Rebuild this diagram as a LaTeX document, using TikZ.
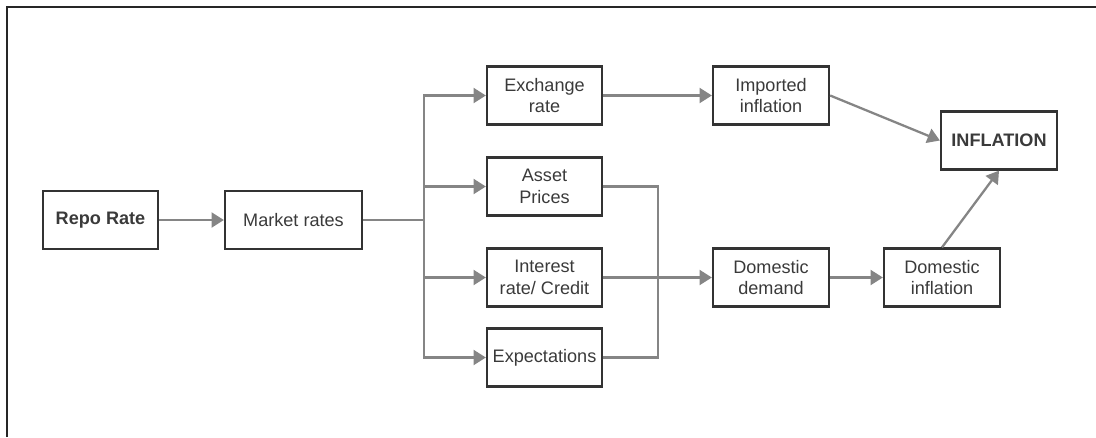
\documentclass[tikz,border=0pt]{standalone}
\usepackage{fontspec}
\setmainfont{Liberation Sans}
\usetikzlibrary{arrows.meta}
\definecolor{boxline}{HTML}{333333}
\definecolor{arrowgray}{HTML}{858585}
\definecolor{textgray}{HTML}{3A3A3A}
\begin{document}
\begin{tikzpicture}[inner sep=0.7mm,
  box/.style={draw=boxline,line width=1.3pt,minimum width=2.3cm,minimum height=1.16cm,align=center,text=textgray,font=\fontsize{10.3}{12.4}\selectfont},
  link/.style={draw=arrowgray,line width=1.3pt},
  arr/.style={link,-{Triangle[length=7pt,width=8.5pt]}}]
\useasboundingbox (0,0) rectangle (21.92,-8.74);
\draw [line width=1.2pt,color=black!85] (0.14,-8.74) -- (0.14,-0.14) -- (21.92,-0.14);
\node (repo) at (2.01,-4.40) [box,font=\fontsize{10.3}{12.4}\selectfont\bfseries] {Repo Rate};
\node (market) at (5.87,-4.40) [box,minimum width=2.74cm] {Market rates};
\node (exch) at (10.89,-1.91) [box] {Exchange\\rate};
\node (asset) at (10.89,-3.73) [box] {Asset\\Prices};
\node (interest) at (10.89,-5.55) [box] {Interest\\rate/ Credit};
\node (expect) at (10.89,-7.15) [box] {Expectations};
\node (imported) at (15.42,-1.91) [box,minimum width=2.32cm] {Imported\\inflation};
\node (demand) at (15.42,-5.55) [box,minimum width=2.32cm] {Domestic\\demand};
\node (dominf) at (18.84,-5.55) [box,minimum width=2.32cm] {Domestic\\inflation};
\node (inflation) at (19.98,-2.81) [box,minimum width=2.32cm,font=\fontsize{10.3}{12.4}\selectfont\bfseries] {INFLATION};
\coordinate (split) at (8.48,-4.40);
\coordinate (merge) at (13.16,-5.55);
\draw [arr] (repo) -- (market);
\draw [link] (market) -- (split);
\draw [arr] (split) |- (exch);
\draw [arr] (split) |- (asset);
\draw [arr] (split) |- (interest);
\draw [arr] (split) |- (expect);
\draw [link] (asset) -| (merge);
\draw [link] (expect) -| (merge);
\draw [arr] (interest) -- (demand);
\draw [arr] (exch) -- (imported);
\draw [arr] (demand) -- (dominf);
\draw [arr] (imported.east) -- (inflation.west);
\draw [arr] (dominf.north) -- (inflation.south);
\end{tikzpicture}
\end{document}
